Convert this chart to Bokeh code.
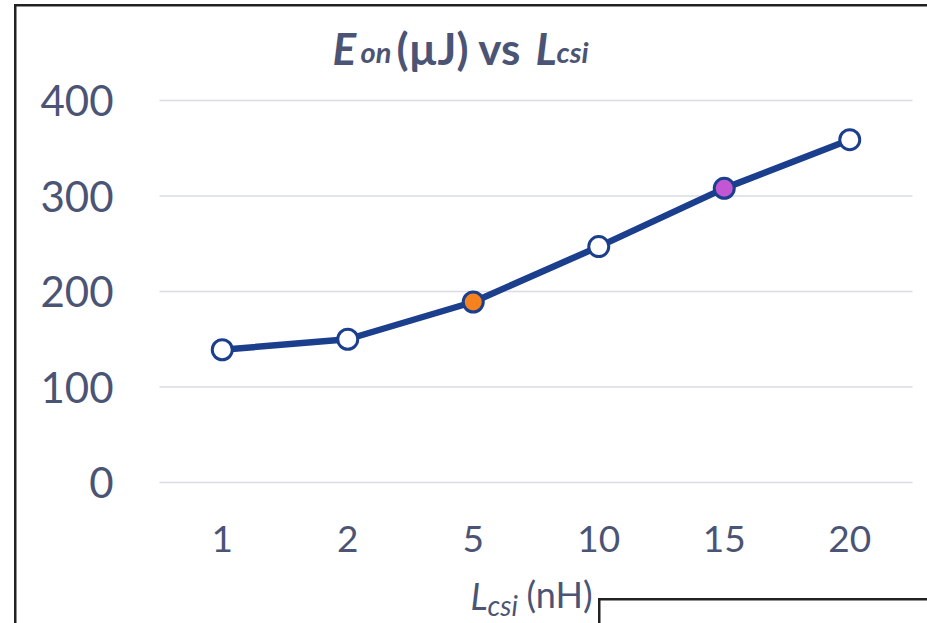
from bokeh.plotting import figure
from bokeh.models import Range1d, Label, ColumnDataSource
from bokeh.core.properties import value
from bokeh.embed import file_html
from bokeh.resources import INLINE

# data
categories = ["1", "2", "5", "10", "15", "20"]
eon_values = [139, 150, 189, 247, 308, 359]
y_ticks = [0, 100, 200, 300, 400]

marker_fills = ["white", "white", "#F5821F", "white", "#C357D3", "white"]

TXT = "#4B5474"
LINE = "#1B3F8D"
W, H = 927, 623

# plot area: category slots 0..6 span px 159..912, values 0..400 span px 482..100
SLOT = (912 - 159) / 6
PPU = (482 - 100) / 400
x_range = Range1d(-159 / SLOT, 6 + (W - 912) / SLOT)
y_range = Range1d(-(H - 482) / PPU, 482 / PPU)

p = figure(width=W, height=H, output_backend="svg", toolbar_location=None,
           x_range=x_range, y_range=y_range, x_axis_location=None, y_axis_location=None,
           min_border=0)
p.outline_line_color = None
p.background_fill_color = None
p.border_fill_color = None
p.xgrid.visible = False
p.ygrid.visible = False

# outer chart border drawn as CSS behind the transparent canvas
B = "#222222"
p.styles = {
    "background-color": "white",
    "background-image": ", ".join([f"linear-gradient({B}, {B})"] * 4),
    "background-position": "14px 4px, 14px 4px, 598px 598px, 598px 598px",
    "background-size": "913px 2.5px, 2.5px 619px, 329px 2.5px, 2.5px 25px",
    "background-repeat": "no-repeat",
}

xc = [i + 0.5 for i in range(len(categories))]

# horizontal gridlines
p.segment(x0=[0] * len(y_ticks), x1=[len(categories)] * len(y_ticks), y0=y_ticks, y1=y_ticks,
          line_color="#D9DCE6", line_width=1.5)

# tick labels
p.text(x=[-46 / SLOT] * len(y_ticks), y=y_ticks, text=[str(t) for t in y_ticks],
       text_font=value("Lato"), text_font_size="42px", text_color=TXT,
       text_align="right", text_baseline="middle")
p.text(x=xc, y=[-56 / PPU] * len(xc), text=categories,
       text_font=value("Lato"), text_font_size="37px", text_color=TXT,
       text_align="center", text_baseline="middle")

src = ColumnDataSource(dict(x=xc, y=eon_values, c=marker_fills))
p.line("x", "y", source=src, line_color=LINE, line_width=6.5)
p.scatter("x", "y", source=src, size=20, fill_color="c", line_color=LINE, line_width=3)

def lab(x, base, t, size, style):
    # x, base: canvas px from top-left (text baseline)
    p.add_layout(Label(x=x, y=H + 16 - base, x_units="screen", y_units="screen", text=t,
                       text_font="Lato", text_font_size=size, text_font_style=style,
                       text_color=TXT, text_baseline="alphabetic", text_align="left"))

# title
lab(332, 63, "E", "44px", "bold italic")
lab(360, 67, "on", "29px", "bold italic")
lab(396, 63, "(µJ) vs", "44px", "bold")
lab(535, 63, "L", "44px", "bold italic")
lab(556, 67, "csi", "29px", "bold italic")

# x axis title
lab(470, 611, "L", "36px", "italic")
lab(487, 620, "csi", "28px", "italic")
lab(526, 609, "(nH)", "36px", "normal")

open("out.html", "w").write(file_html(p, INLINE))
